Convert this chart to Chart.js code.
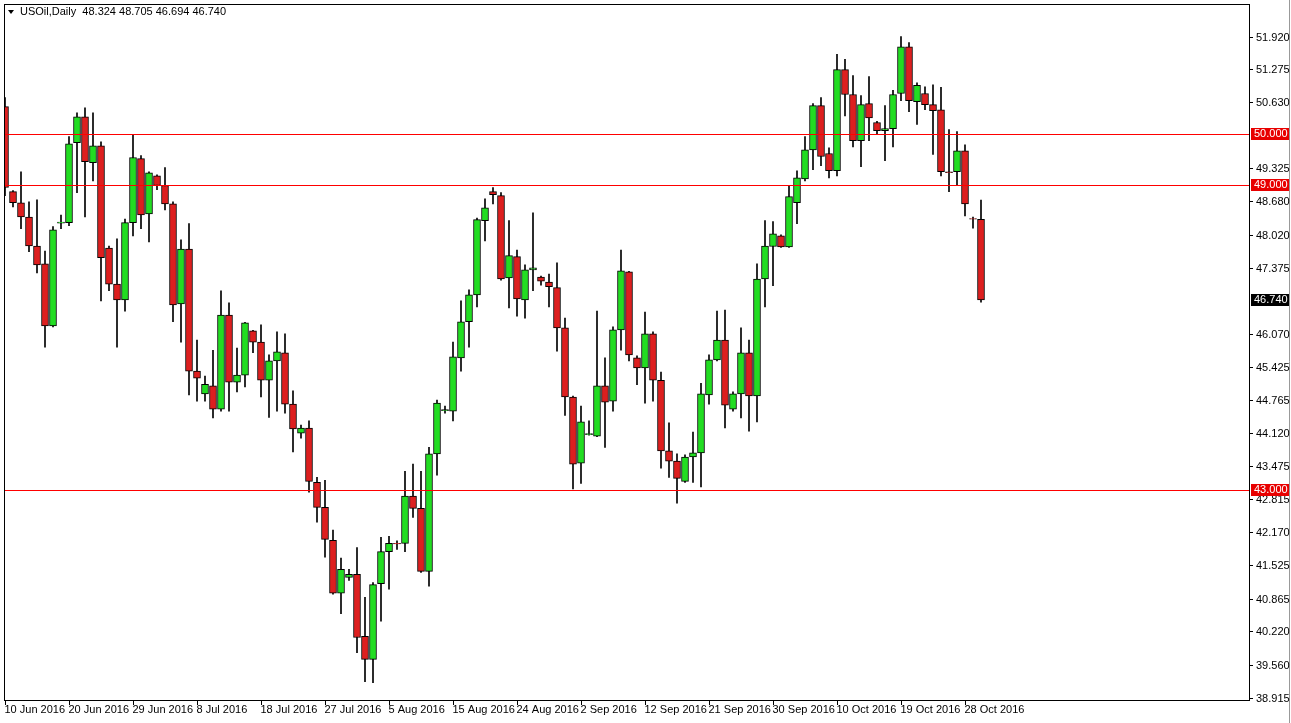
<!DOCTYPE html>
<html>
<head>
<meta charset="utf-8">
<script src="https://cdn.jsdelivr.net/npm/chart.js@4.4.0/dist/chart.umd.min.js"></script>
<style>
  html, body { margin: 0; padding: 0; background: #fff; }
  #wrap { width: 1291px; height: 723px; position: relative; }
</style>
</head>
<body>
<div id="wrap"><canvas id="chart" width="1291" height="723"></canvas></div>
<script>
// daily candles
const opens = [50.54,48.87,48.65,48.37,47.80,47.45,46.23,48.25,48.26,49.83,50.34,49.44,49.77,47.76,47.05,46.74,48.26,49.52,48.43,49.18,
  48.99,48.63,46.66,47.74,45.34,44.89,45.05,44.59,46.44,45.12,45.26,46.13,45.91,45.16,45.54,45.70,44.69,44.12,44.22,43.15,
  42.66,42.01,40.97,41.28,41.34,40.12,39.67,41.16,41.79,41.95,41.95,42.88,42.64,41.40,43.71,44.56,44.55,45.60,46.31,46.84,
  48.30,48.87,48.79,47.17,47.59,46.74,47.33,47.19,47.09,46.98,46.19,44.83,43.53,44.09,44.06,45.05,44.75,46.15,47.29,45.60,
  45.40,46.07,45.16,43.77,43.57,43.17,43.65,43.73,44.87,45.56,45.95,44.59,44.89,45.70,44.85,47.15,47.79,48.00,47.78,48.65,
  49.12,49.69,50.56,49.62,49.28,51.27,50.78,49.87,50.60,50.23,50.07,50.11,50.80,51.72,50.64,50.80,50.58,50.48,49.26,49.26,
  49.67,48.33,48.324];
const highs = [50.72,48.89,49.26,48.67,48.71,47.70,48.18,48.41,49.95,50.42,50.52,50.42,49.85,47.80,47.94,48.33,49.99,49.58,49.26,49.20,
  49.34,48.67,47.92,48.24,45.95,45.24,45.75,46.92,46.68,45.79,46.30,46.14,46.25,45.66,46.11,46.07,44.95,44.28,44.36,43.25,
  43.19,42.21,41.66,41.44,41.87,40.89,41.18,42.07,42.09,42.00,43.37,43.51,43.37,43.84,44.77,44.65,45.91,46.72,46.94,48.35,
  48.73,48.95,48.85,48.30,47.72,47.43,48.45,47.21,47.25,47.47,46.38,44.85,44.65,44.36,46.52,45.60,46.21,47.72,47.30,45.64,
  46.50,46.11,45.32,44.32,43.71,43.69,44.14,45.10,45.66,46.52,46.54,44.93,46.19,45.95,47.45,48.30,48.28,48.02,48.99,49.28,
  49.95,50.60,50.72,49.73,51.57,51.47,51.15,50.76,51.13,50.25,50.56,50.86,51.92,51.80,51.01,50.93,50.97,50.92,50.09,50.05,
  49.79,48.37,48.705];
const lows = [48.79,48.57,48.14,47.69,47.27,45.81,46.21,48.14,48.20,48.85,48.37,49.08,46.72,46.92,45.81,46.52,48.00,48.14,47.88,48.91,
  48.51,46.31,45.91,44.87,44.75,44.75,44.42,44.55,44.55,44.93,45.03,45.70,44.83,44.43,44.55,44.51,43.75,44.02,42.96,42.37,
  41.68,40.95,40.57,41.22,39.80,39.23,39.21,40.42,41.05,41.83,41.79,42.46,41.38,41.11,43.29,44.51,44.36,45.34,45.81,46.60,
  47.90,48.63,47.13,46.58,46.42,46.38,46.92,47.03,46.60,45.73,44.47,43.02,43.13,44.08,44.05,43.84,44.55,45.75,45.54,45.07,
  44.71,44.75,43.43,43.25,42.74,43.15,43.15,43.06,44.69,45.54,44.22,44.55,44.42,44.16,44.34,46.60,47.02,47.77,47.77,48.24,
  49.08,49.30,49.38,49.14,49.18,50.36,49.75,49.36,49.87,50.01,49.48,49.75,50.66,50.44,50.19,50.48,49.60,49.18,48.87,49.00,
  48.39,48.15,46.694];
const closes = [48.95,48.65,48.37,47.80,47.43,46.23,48.12,48.27,49.81,50.34,49.46,49.77,47.57,47.05,46.74,48.26,49.54,48.41,49.24,48.99,
  48.63,46.64,47.74,45.34,45.20,45.08,44.59,46.44,45.12,45.26,46.29,45.91,45.16,45.54,45.72,44.69,44.20,44.22,43.17,42.66,
  42.03,40.97,41.44,41.34,40.10,39.67,41.14,41.79,41.95,41.94,42.88,42.64,41.40,43.71,44.71,44.58,45.62,46.31,46.84,48.32,
  48.55,48.81,47.15,47.61,46.76,47.33,47.37,47.11,47.00,46.19,44.83,43.51,44.34,44.11,45.05,44.73,46.15,47.31,45.66,45.40,
  46.07,45.16,43.77,43.57,43.23,43.65,43.73,44.89,45.56,45.95,44.67,44.89,45.70,44.85,47.15,47.80,48.04,47.78,48.77,49.14,
  49.69,50.56,49.56,49.28,51.27,50.78,49.87,50.58,50.32,50.07,50.11,50.78,51.72,50.66,50.96,50.58,50.46,49.26,49.24,49.67,
  48.63,48.32,46.740];

// date labels every 8 bars
const dateLabels = ['10 Jun 2016','20 Jun 2016','29 Jun 2016','8 Jul 2016','18 Jul 2016','27 Jul 2016','5 Aug 2016','15 Aug 2016',
  '24 Aug 2016','2 Sep 2016','12 Sep 2016','21 Sep 2016','30 Sep 2016','10 Oct 2016','19 Oct 2016','28 Oct 2016'];
const priceTicks = [51.920,51.275,50.630,49.325,48.680,48.020,47.375,46.070,45.425,44.765,44.120,43.475,42.815,42.170,41.525,40.865,40.220,39.560,38.915];
const levels = [50.000, 49.000, 43.000];
const lastPrice = 46.740;

const idx = opens.map((_, i) => i);
const bodies = idx.map(i => {
  let a = opens[i], b = closes[i];
  if (Math.abs(a - b) < 0.01) b = a + 0.01;
  return { x: i, y: [Math.min(a, b), Math.max(a, b)] };
});
const wicks = idx.map(i => ({ x: i, y: [lows[i], highs[i]] }));
const bodyColors = idx.map(i => closes[i] >= opens[i] ? '#22dd22' : '#dd1f1f');

const overlay = {
  id: 'overlay',
  afterDraw(chart) {
    const ctx = chart.ctx, a = chart.chartArea;
    const ys = chart.scales.y, xs = chart.scales.x;
    ctx.save();
    ctx.font = '11px "Liberation Sans", Arial, sans-serif';
    ctx.textBaseline = 'middle';
    // frame
    ctx.strokeStyle = '#000'; ctx.lineWidth = 1;
    ctx.strokeRect(a.left + 0.5, a.top + 0.5, a.right - a.left, a.bottom - a.top);
    ctx.strokeStyle = '#999';
    ctx.beginPath(); ctx.moveTo(1289.5, 0); ctx.lineTo(1289.5, 723); ctx.stroke();
    // levels
    ctx.strokeStyle = '#ff0000';
    levels.forEach(v => {
      const y = Math.round(ys.getPixelForValue(v)) + 0.5;
      ctx.beginPath(); ctx.moveTo(a.left + 1, y); ctx.lineTo(a.right, y); ctx.stroke();
    });
    // price ticks
    ctx.fillStyle = '#000'; ctx.strokeStyle = '#000';
    priceTicks.forEach(v => {
      const y = Math.round(ys.getPixelForValue(v)) + 0.5;
      ctx.beginPath(); ctx.moveTo(a.right, y); ctx.lineTo(a.right + 4, y); ctx.stroke();
      ctx.fillText(v.toFixed(3), a.right + 7, y);
    });
    // level boxes
    levels.forEach(v => {
      const y = Math.round(ys.getPixelForValue(v));
      ctx.fillStyle = '#e80000';
      ctx.fillRect(a.right + 2, y - 6, 38, 12);
      ctx.fillStyle = '#fff';
      ctx.fillText(v.toFixed(3), a.right + 5, y);
    });
    const yl = Math.round(ys.getPixelForValue(lastPrice));
    ctx.fillStyle = '#000'; ctx.fillRect(a.right + 2, yl - 6, 38, 12);
    ctx.fillStyle = '#fff'; ctx.fillText(lastPrice.toFixed(3), a.right + 5, yl);
    // dates
    ctx.fillStyle = '#000'; ctx.textBaseline = 'top';
    dateLabels.forEach((d, k) => {
      const x = Math.round(xs.getPixelForValue(k * 8)) + 0.5;
      ctx.beginPath(); ctx.moveTo(x, a.bottom); ctx.lineTo(x, a.bottom + 5); ctx.stroke();
      ctx.fillText(d, x - 1, a.bottom + 4);
    });
    // title
    ctx.textBaseline = 'middle';
    ctx.beginPath(); ctx.moveTo(8, 10); ctx.lineTo(14, 10); ctx.lineTo(11, 14); ctx.closePath(); ctx.fill();
    ctx.fillText('USOil,Daily  48.324 48.705 46.694 46.740', 20, 12);
    ctx.restore();
  }
};

new Chart(document.getElementById('chart'), {
  type: 'bar',
  data: {
    datasets: [
      { data: wicks, backgroundColor: '#000', barThickness: 1, grouped: false, order: 2 },
      { data: bodies, backgroundColor: bodyColors, borderColor: '#000', borderWidth: 1,
        borderSkipped: false, barThickness: 7, grouped: false, order: 1 }
    ]
  },
  options: {
    responsive: false,
    animation: false,
    layout: { padding: { left: 4, right: 42, top: 4, bottom: 23 } },
    plugins: { legend: { display: false }, tooltip: { enabled: false } },
    scales: {
      x: { type: 'linear', min: -0.125, max: -0.125 + 1245 / 8, offset: false, display: false },
      y: { min: 38.87, max: 52.56, display: false }
    }
  },
  plugins: [overlay]
});
</script>
</body>
</html>
